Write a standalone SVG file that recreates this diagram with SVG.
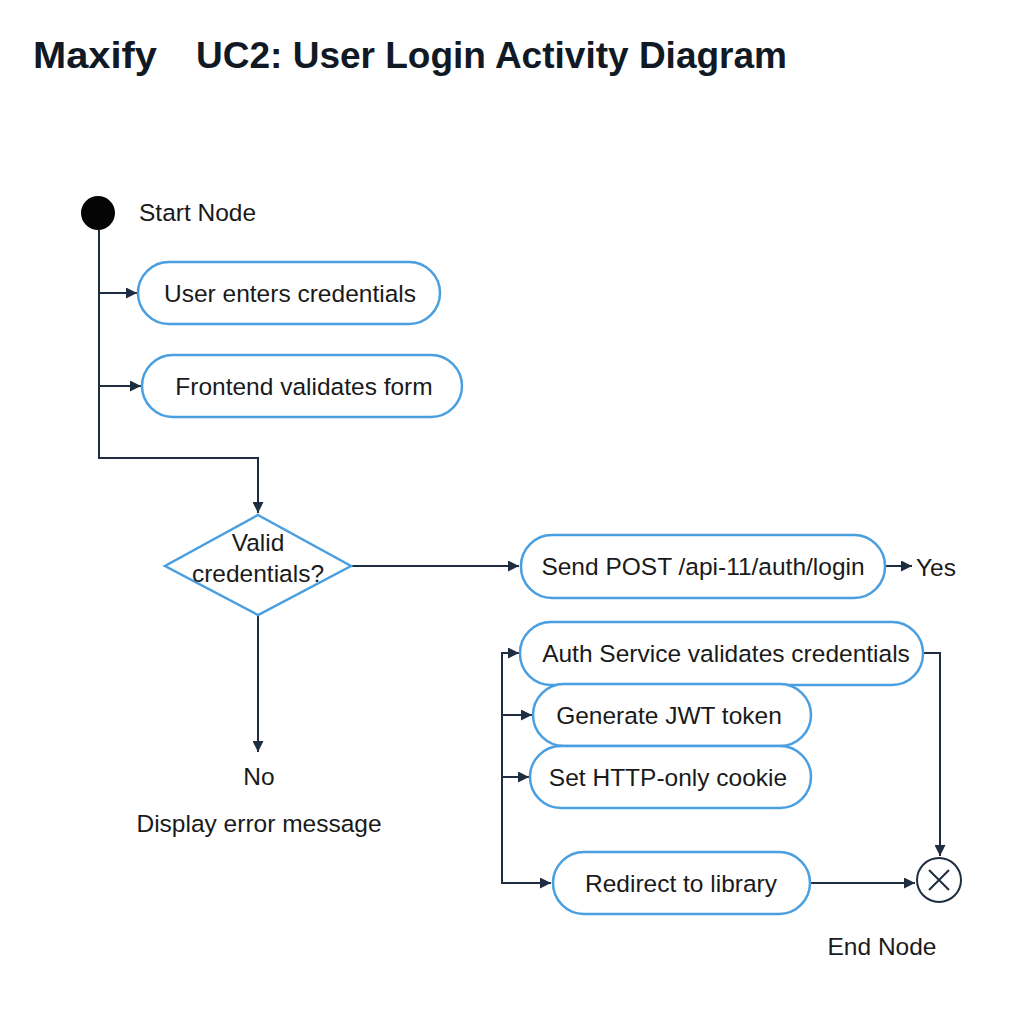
<svg xmlns="http://www.w3.org/2000/svg" width="1024" height="1024" viewBox="0 0 1024 1024">
<style>
.title{font-family:"Liberation Sans",Arial,sans-serif;font-weight:bold;font-size:36px;fill:#111a24}
.t{font-family:"Liberation Sans",Arial,sans-serif;font-size:24.5px;fill:#1a1a1a}
.act{fill:#fff;stroke:#4a9fe0;stroke-width:2.5}
.c{fill:none;stroke:#1e2d40;stroke-width:2}
</style>
<defs>
<marker id="ah" viewBox="0 0 10 10" refX="10" refY="5" markerWidth="11" markerHeight="11" markerUnits="userSpaceOnUse" orient="auto">
<path d="M0,0 L10,5 L0,10 z" fill="#1e2d40"/>
</marker>
</defs>
<rect width="1024" height="1024" fill="#fff"/>
<text class="title" x="33" y="68" textLength="124" lengthAdjust="spacingAndGlyphs">Maxify</text>
<text class="title" x="196" y="68" textLength="591" lengthAdjust="spacingAndGlyphs">UC2: User Login Activity Diagram</text>

<g id="connectors">
<path class="c" d="M99,230 V458 H258 V513" marker-end="url(#ah)"/>
<path class="c" d="M99,293 H137" marker-end="url(#ah)"/>
<path class="c" d="M99,386 H141" marker-end="url(#ah)"/>
<path class="c" d="M351,566 H519" marker-end="url(#ah)"/>
<path class="c" d="M885,566 H912" marker-end="url(#ah)"/>
<path class="c" d="M258,615 V752" marker-end="url(#ah)"/>
<path class="c" d="M923,653 H940 V856" marker-end="url(#ah)"/>
<path class="c" d="M519,653 H502 V883 H551" marker-end="url(#ah)"/>
<path class="c" d="M502,653 H519" marker-end="url(#ah)"/>
<path class="c" d="M502,715 H532" marker-end="url(#ah)"/>
<path class="c" d="M502,777 H529" marker-end="url(#ah)"/>
<path class="c" d="M810,883 H915" marker-end="url(#ah)"/>
</g>

<g id="start">
<circle cx="98" cy="213" r="17" fill="#050505"/>
<text class="t" x="139" y="221">Start Node</text>
</g>
<g id="n1">
<rect class="act" x="138" y="262" width="302" height="62" rx="31"/>
<text class="t" x="290" y="302" text-anchor="middle">User enters credentials</text>
</g>
<g id="n2">
<rect class="act" x="142" y="355" width="320" height="62" rx="31"/>
<text class="t" x="304" y="395" text-anchor="middle">Frontend validates form</text>
</g>
<g id="decision">
<polygon points="258,515 351,566 258,615 165,566" fill="#fff" stroke="#4a9fe0" stroke-width="2.5"/>
<text class="t" x="258" y="551" text-anchor="middle">Valid</text>
<text class="t" x="258" y="582" text-anchor="middle">credentials?</text>
</g>
<g id="n3">
<rect class="act" x="521" y="535" width="364" height="63" rx="31"/>
<text class="t" x="703" y="575" text-anchor="middle">Send POST /api-11/auth/login</text>
</g>
<g id="yes"><text class="t" x="916" y="576">Yes</text></g>
<g id="no">
<text class="t" x="259" y="785" text-anchor="middle">No</text>
<text class="t" x="259" y="832" text-anchor="middle">Display error message</text>
</g>
<g id="n4">
<rect class="act" x="520" y="622" width="403" height="63" rx="31"/>
<text class="t" x="726" y="662" text-anchor="middle">Auth Service validates credentials</text>
</g>
<g id="n5">
<rect class="act" x="533" y="684" width="278" height="62" rx="31"/>
<text class="t" x="669" y="724" text-anchor="middle">Generate JWT token</text>
</g>
<g id="n6">
<rect class="act" x="530" y="746" width="281" height="62" rx="31"/>
<text class="t" x="668" y="786" text-anchor="middle">Set HTTP-only cookie</text>
</g>
<g id="n7">
<rect class="act" x="553" y="852" width="257" height="62" rx="31"/>
<text class="t" x="681" y="892" text-anchor="middle">Redirect to library</text>
</g>
<g id="end">
<circle cx="939" cy="880" r="22" fill="#fff" stroke="#1e2d40" stroke-width="2"/>
<path d="M929,870 L949,890 M949,870 L929,890" stroke="#1e2d40" stroke-width="2" fill="none"/>
<text class="t" x="882" y="955" text-anchor="middle">End Node</text>
</g>
</svg>
